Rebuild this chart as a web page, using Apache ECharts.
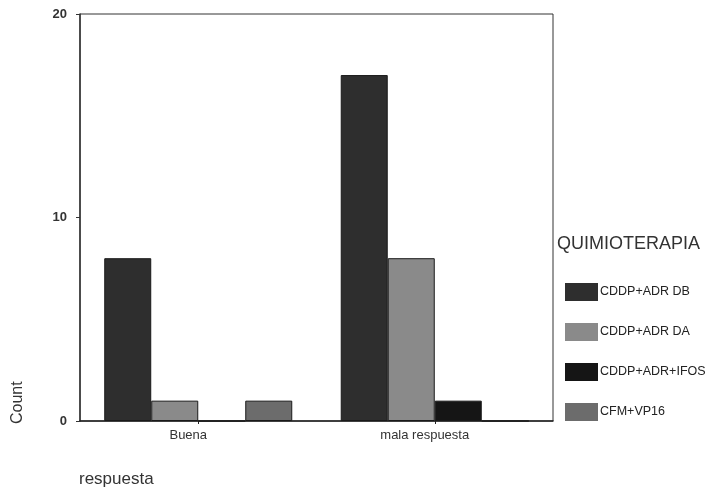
<!DOCTYPE html>
<html>
<head>
<meta charset="utf-8">
<script src="https://cdn.jsdelivr.net/npm/echarts@6/dist/echarts.min.js"></script>
<style>html,body{margin:0;padding:0;background:#fff;}#c{width:727px;height:495px;}</style>
</head>
<body>
<div id="c"></div>
<script>
const categories = ['Buena', 'mala respuesta'];
const seriesNames = ['CDDP+ADR DB', 'CDDP+ADR DA', 'CDDP+ADR+IFOS', 'CFM+VP16'];
const dbValues = [8, 17];
const daValues = [1, 8];
const ifosValues = [0, 1];
const cfmValues = [1, 0];
const yTicks = [0, 10, 20];
const colors = ['#2e2e2e', '#8a8a8a', '#151515', '#6c6c6c'];

const allValues = [dbValues, daValues, ifosValues, cfmValues];
const chart = echarts.init(document.getElementById('c'), null, {renderer: 'canvas'});
const font = '"Liberation Sans", Arial, sans-serif';

chart.setOption({
  animation: false,
  backgroundColor: '#ffffff',
  grid: {left: 80, right: 174, top: 14, bottom: 74, show: true, borderColor: '#333', borderWidth: 1, backgroundColor: 'transparent'},
  legend: {
    orient: 'vertical',
    left: 560, top: 278,
    itemWidth: 33, itemHeight: 18, itemGap: 22,
    itemStyle: {borderWidth: 0},
    textStyle: {fontFamily: font, fontSize: 12.5, color: '#222', padding: [0,0,0,-3]},
    data: seriesNames,
    icon: 'rect'
  },
  xAxis: {
    type: 'category',
    data: categories,
    axisLine: {lineStyle: {color: '#222', width: 1.5}},
    axisTick: {show: true, alignWithLabel: true, length: 3, lineStyle: {color: '#222'}},
    axisLabel: {fontFamily: font, fontSize: 13, color: '#333', margin: 8, padding: [0, 20, 0, 0]}
  },
  yAxis: {
    type: 'value',
    min: yTicks[0], max: yTicks[yTicks.length - 1], interval: 10,
    splitLine: {show: false},
    axisLine: {show: true, lineStyle: {color: '#333', width: 1.5}},
    axisTick: {show: true, length: 4, lineStyle: {color: '#333'}},
    axisLabel: {fontFamily: font, fontSize: 13, fontWeight: 'bold', color: '#333', margin: 13}
  },
  graphic: [
    {type: 'text', left: 557, top: 235, style: {text: 'QUIMIOTERAPIA', font: '18px ' + font, fill: '#333'}},
    {type: 'text', left: 79, top: 471, style: {text: 'respuesta', font: '17px ' + font, fill: '#333'}},
    {type: 'text', x: 10, y: 424, rotation: Math.PI / 2, style: {text: 'Count', font: '16px ' + font, fill: '#333'}}
  ],
  series: seriesNames.map((name, i) => ({
    name: name,
    type: 'bar',
    data: allValues[i],
    barGap: '0%',
    barCategoryGap: '20.5%',
    itemStyle: {color: colors[i], borderColor: '#1a1a1a', borderWidth: 1}
  }))
});
</script>
</body>
</html>
